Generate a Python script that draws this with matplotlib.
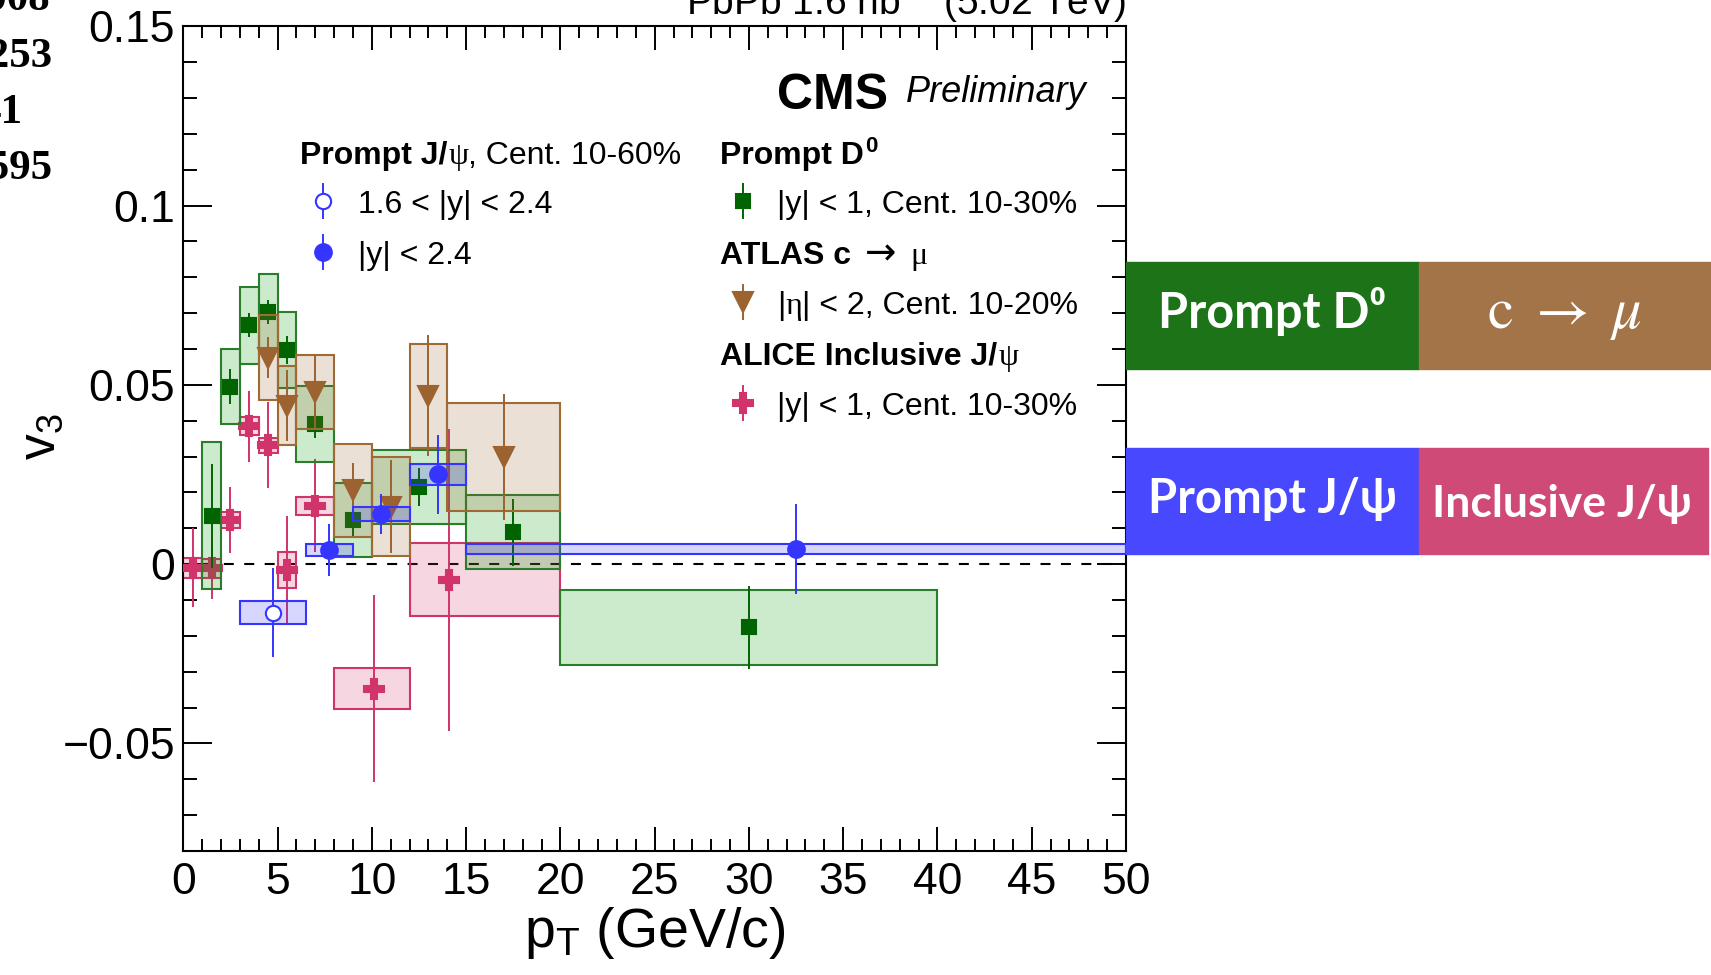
import matplotlib
matplotlib.use('Agg')
import matplotlib.pyplot as plt
from matplotlib.patches import Rectangle
from matplotlib.lines import Line2D
from matplotlib.ticker import MultipleLocator, FuncFormatter
from matplotlib.colors import to_rgba

plt.rcParams['font.family'] = ['Liberation Sans', 'DejaVu Sans']
plt.rcParams['mathtext.fontset'] = 'custom'
plt.rcParams['mathtext.rm'] = 'Liberation Sans'
plt.rcParams['mathtext.it'] = 'Liberation Sans:italic'
plt.rcParams['mathtext.bf'] = 'Liberation Sans:bold'

W, H = 1711, 975

# ALICE inclusive J/psi, |y| < 1, Cent. 10-30%
alice_pt = [0.5, 1.5, 2.5, 3.5, 4.5, 5.5, 7.0, 10.1, 14.1]
alice_lo = [0, 1, 2, 3, 4, 5, 6, 8, 12]
alice_hi = [1, 2, 3, 4, 5, 6, 8, 12, 20]
alice_v3 = [-0.0010, -0.0012, 0.0123, 0.0384, 0.0331, -0.0016, 0.0163, -0.0347, -0.0044]
alice_stat = [0.011, 0.0085, 0.0092, 0.010, 0.012, 0.015, 0.013, 0.026, 0.042]
alice_syst = [0.0028, 0.0026, 0.0022, 0.0025, 0.0021, 0.0051, 0.0025, 0.0056, 0.0102]

# CMS prompt D0, |y| < 1, Cent. 10-30%
d0_pt = [1.5, 2.5, 3.5, 4.5, 5.5, 7.0, 9.0, 12.5, 17.5, 30.0]
d0_lo = [1, 2, 3, 4, 5, 6, 8, 10, 15, 20]
d0_hi = [2, 3, 4, 5, 6, 8, 10, 15, 20, 40]
d0_v3 = [0.0135, 0.0495, 0.0666, 0.0703, 0.0597, 0.0391, 0.0123, 0.0215, 0.0089, -0.0176]
d0_stat = [0.0145, 0.0048, 0.0034, 0.0034, 0.0039, 0.0040, 0.0048, 0.0052, 0.0093, 0.0116]
d0_syst = [0.0205, 0.0105, 0.0108, 0.0105, 0.0106, 0.0106, 0.0103, 0.0103, 0.0103, 0.0104]

# ATLAS c -> mu, |eta| < 2, Cent. 10-20%
atlas_pt = [4.5, 5.5, 7.0, 9.0, 11.0, 13.0, 17.0]
atlas_lo = [4, 5, 6, 8, 10, 12, 14]
atlas_hi = [5, 6, 8, 10, 12, 14, 20]
atlas_v3 = [0.0576, 0.0442, 0.0479, 0.0206, 0.0160, 0.0470, 0.0298]
atlas_stat = [0.0057, 0.0098, 0.0104, 0.0077, 0.0130, 0.0168, 0.0175]
atlas_syst = [0.0119, 0.0110, 0.0103, 0.0130, 0.0138, 0.0145, 0.0151]

# CMS prompt J/psi, 1.6 < |y| < 2.4
jpsi_fwd_pt = [4.75]
jpsi_fwd_lo = [3.0]
jpsi_fwd_hi = [6.5]
jpsi_fwd_v3 = [-0.0135]
jpsi_fwd_stat = [0.0124]
jpsi_fwd_syst = [0.0032]

# CMS prompt J/psi, |y| < 2.4
jpsi_pt = [7.73, 10.47, 13.49, 32.5]
jpsi_lo = [6.5, 9, 12, 15]
jpsi_hi = [9, 12, 15, 50]
jpsi_v3 = [0.0039, 0.0139, 0.0250, 0.0043]
jpsi_stat = [0.0072, 0.0056, 0.0109, 0.0125]
jpsi_syst = [0.0016, 0.0020, 0.0030, 0.0014]

PINK = '#d0346a'
GREEN_BOX = '#2a7d2a'
GREEN = '#006400'
BROWN = '#9c6230'
BLUE = '#3535ff'

fig = plt.figure(figsize=(W / 100, H / 100), dpi=100)
ax = fig.add_axes([183.3 / W, 1 - 851 / H, (1126 - 183.3) / W, (851 - 26.2) / H])
ax.set_xlim(0, 50)
ax.set_ylim(-0.08, 0.15)

ax.axhline(0, color='k', lw=1.5, ls=(0, (4.8, 5.0)), zorder=1)


def draw_set(pt, lo, hi, v, stat, syst, mcol, ecol, fill, marker, ms, z, mfc=None):
    for l, h, yv, s in zip(lo, hi, v, syst):
        ax.add_patch(Rectangle((l, yv - s), h - l, 2 * s, fc=to_rgba(fill, 0.2),
                               ec=ecol, lw=1.5, zorder=z))
    ax.errorbar(pt, v, yerr=stat, fmt=marker, color=mcol, mec=mcol,
                mfc=mfc if mfc else mcol, ms=ms, mew=1.5, elinewidth=1.4,
                capsize=0, zorder=z + 0.5)


draw_set(alice_pt, alice_lo, alice_hi, alice_v3, alice_stat, alice_syst,
         PINK, PINK, '#d0346a', 'P', 15, 2)
draw_set(d0_pt, d0_lo, d0_hi, d0_v3, d0_stat, d0_syst,
         GREEN, GREEN_BOX, '#009900', 's', 10, 3)
draw_set(atlas_pt, atlas_lo, atlas_hi, atlas_v3, atlas_stat, atlas_syst,
         BROWN, '#a06a35', '#996633', 'v', 14, 4)
draw_set(jpsi_fwd_pt, jpsi_fwd_lo, jpsi_fwd_hi, jpsi_fwd_v3, jpsi_fwd_stat, jpsi_fwd_syst,
         BLUE, BLUE, '#3333ff', 'o', 11, 5, mfc='white')
draw_set(jpsi_pt, jpsi_lo, jpsi_hi, jpsi_v3, jpsi_stat, jpsi_syst,
         BLUE, BLUE, '#3333ff', 'o', 12, 5)

# axes styling
ax.xaxis.set_major_locator(MultipleLocator(5))
ax.xaxis.set_minor_locator(MultipleLocator(1))
ax.yaxis.set_major_locator(MultipleLocator(0.05))
ax.yaxis.set_minor_locator(MultipleLocator(0.01))
ax.yaxis.set_major_formatter(FuncFormatter(
    lambda v, _: ('0' if abs(v) < 1e-9 else f'{v:g}').replace('-', '\u2212')))
ax.tick_params(which='both', direction='in', top=True, right=True, width=1.4,
               labelsize=32)
ax.tick_params(axis='x', which='major', length=17, pad=8)
ax.tick_params(axis='x', which='minor', length=8.6)
ax.tick_params(axis='y', which='major', length=21, pad=6)
ax.tick_params(axis='y', which='minor', length=10)
for sp in ax.spines.values():
    sp.set_linewidth(1.5)

fig.text(41.5 / W, 1 - 436.5 / H, r'v$_{\rm 3}$', rotation=90, ha='center',
         va='center', fontsize=37)
fig.text(655 / W, 1 - 947 / H, r'p$_{\rm T}$ (GeV/c)', ha='center',
         va='baseline', fontsize=40)
fig.text(1126 / W, 1 - 15 / H, r'PbPb 1.6 nb$^{-1}$ (5.02 TeV)', ha='right',
         va='baseline', fontsize=28)

fig.text(777 / W, 1 - 109 / H, 'CMS', fontsize=36, fontweight='bold', va='baseline')
fig.text(906 / W, 1 - 102 / H, 'Preliminary', fontsize=26, style='italic', va='baseline')

renderer = fig.canvas.get_renderer()
BOLD = {'fontweight': 'bold'}
SERIF = {'family': ['Liberation Serif', 'DejaVu Serif']}


def text_row(x, y, parts, size=23):
    # lay out text pieces one after another on a common baseline (pixel coords)
    for p in parts:
        s = p[0]
        kw = dict(p[1]) if len(p) > 1 else {}
        gap = kw.pop('gap', 0)
        dy = kw.pop('dy', 0)
        kw.setdefault('fontsize', size)
        t = fig.text((x + gap) / W, 1 - (y - dy) / H, s, ha='left', va='baseline', **kw)
        x = t.get_window_extent(renderer).x1


text_row(300, 164, [('Prompt J/', BOLD), ('\u03c8', dict(SERIF, gap=1)),
                    (', Cent. 10-60%',)])
text_row(358, 213, [('1.6 < |y| < 2.4',)])
text_row(358, 264, [('|y| < 2.4',)])
text_row(720, 164, [('Prompt D', BOLD), ('0', dict(BOLD, fontsize=16, dy=12, gap=1))])
text_row(777, 213, [('|y| < 1, Cent. 10-30%',)])
text_row(720, 264, [('ATLAS c', BOLD),
                    ('\u2192', {'gap': 14, 'family': 'DejaVu Sans', 'fontsize': 27}),
                    ('\u03bc', dict(SERIF, gap=14))])
text_row(777, 314, [('|',), ('\u03b7', SERIF), ('| < 2, Cent. 10-20%',)])
text_row(720, 364.5, [('ALICE Inclusive J/', BOLD), ('\u03c8', dict(SERIF, gap=1))])
text_row(777, 415, [('|y| < 1, Cent. 10-30%',)])

# legend symbols with their small vertical bars
legend_marks = [
    (323, 201, 'o', BLUE, 'white', 11),
    (323, 252, 'o', BLUE, BLUE, 12),
    (743, 201, 's', GREEN, GREEN, 10),
    (743, 302, 'v', BROWN, BROWN, 14),
    (743, 403, 'P', PINK, PINK, 15),
]
for mx, my, mk, col, fc, ms in legend_marks:
    fx, fy = mx / W, 1 - my / H
    fig.add_artist(Line2D([fx, fx], [fy - 17 / H, fy + 17 / H], color=col, lw=1.4,
                          transform=fig.transFigure))
    fig.add_artist(Line2D([fx], [fy], marker=mk, color=col, mfc=fc, mec=col, ms=ms,
                          mew=1.5, transform=fig.transFigure))

# coloured category tags to the right of the frame
tags = [
    (1126, 262, 1418.6, 369, '#1c7318'),
    (1418.6, 262, 1711, 369, '#a27447'),
    (1126, 448.5, 1418.6, 554.3, '#4848fe'),
    (1418.6, 448.5, 1708, 554.3, '#d04a78'),
]
for x0, y0, x1, y1, c in tags:
    fig.add_artist(Rectangle((x0 / W, 1 - y1 / H), (x1 - x0) / W, (y1 - y0) / H,
                             color=c, transform=fig.transFigure))

TAGFONT = ['Lato', 'Open Sans', 'DejaVu Sans']
fig.text(1272 / W, 1 - 328 / H, 'Prompt D\u2070', ha='center', va='baseline',
         color='white', fontsize=35, fontweight='bold', family=TAGFONT)
fig.text(1565 / W, 1 - 328 / H, r'$\mathrm{c}\ \rightarrow\ \mu$', ha='center',
         va='baseline', color='white', fontsize=42, math_fontfamily='stix')
fig.text(1273 / W, 1 - 513 / H, 'Prompt J/\u03c8', ha='center', va='baseline',
         color='white', fontsize=34, fontweight='bold', family=TAGFONT)
fig.text(1562 / W, 1 - 517 / H, 'Inclusive J/\u03c8', ha='center', va='baseline',
         color='white', fontsize=32, fontweight='bold', family=TAGFONT)

# clipped annotation column at the far left
SERIF_BOLD = {'family': ['Liberation Serif', 'DejaVu Serif'], 'fontweight': 'bold',
              'fontsize': 31, 'ha': 'right', 'va': 'baseline'}
for s, xe, yb in [('0.008', 50, 10), ('0.0253', 53, 67), ('41', 22, 123), ('0.0595', 53, 179)]:
    fig.text(xe / W, 1 - yb / H, s, **SERIF_BOLD)

fig.savefig('out.png', dpi=100)
